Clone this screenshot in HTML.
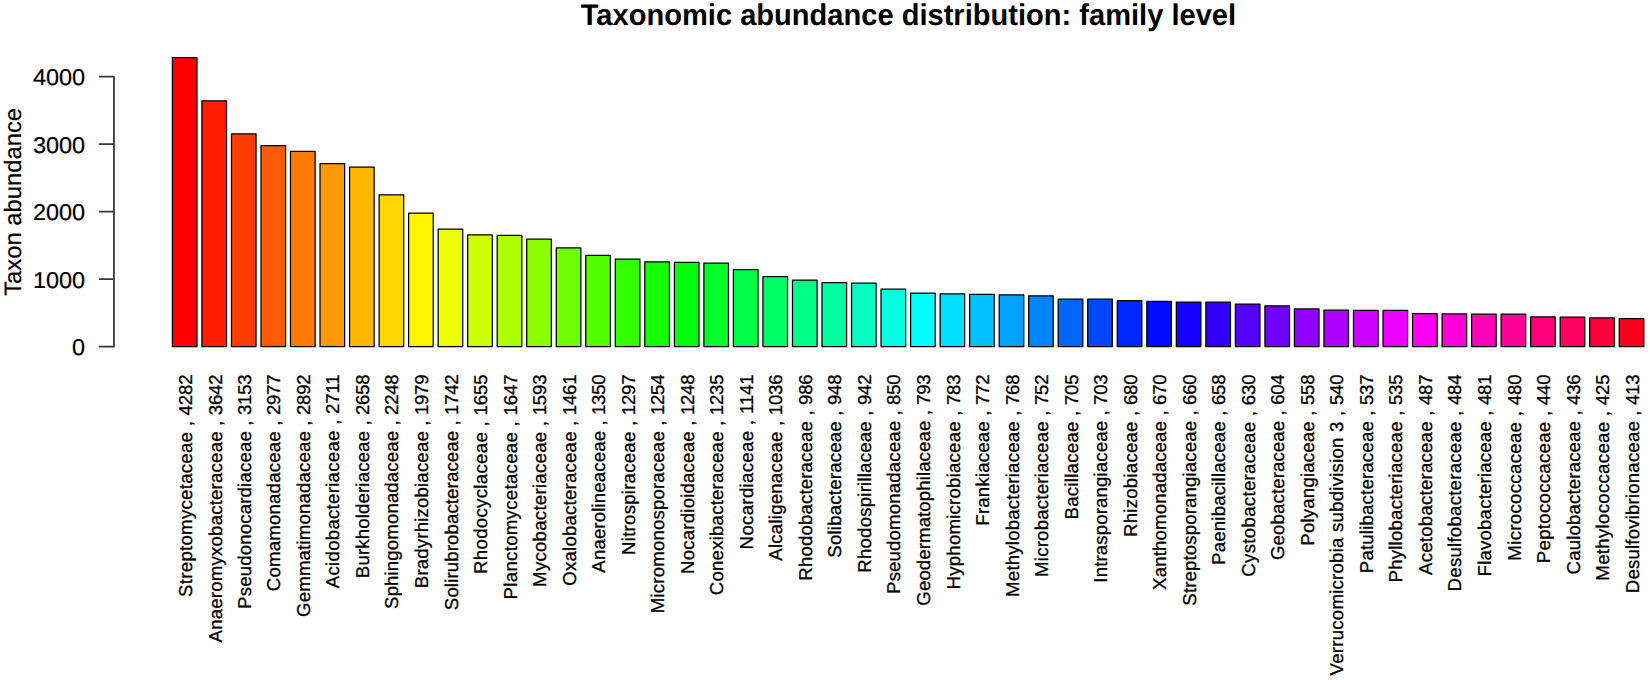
<!DOCTYPE html>
<html lang="en"><head><meta charset="utf-8"><title>Taxonomic abundance distribution: family level</title>
<style>
html,body{margin:0;padding:0;background:#fff;}
body{width:1650px;height:680px;overflow:hidden;}
svg{display:block;}
text{font-family:"Liberation Sans",sans-serif;fill:#000;text-rendering:geometricPrecision;}
.title{font-weight:bold;font-size:29.9px;}
.ax{font-size:22.8px;stroke:#000;stroke-width:0.2px;}
.yl{font-size:23.8px;stroke:#000;stroke-width:0.2px;}
.lab{font-size:18.6px;stroke:#000;stroke-width:0.3px;}
.d{letter-spacing:-0.45px;}
.bar{stroke:#000;stroke-width:1.25;stroke-linejoin:round;}
.axl{stroke:#383838;stroke-width:1.8;fill:none;stroke-linecap:round;stroke-linejoin:round;}
</style></head><body>
<svg width="1650" height="680" viewBox="0 0 1650 680">
<rect x="0" y="0" width="1650" height="680" fill="#ffffff"/>
<text class="title" x="908.4" y="25.3" text-anchor="middle" textLength="655.3" lengthAdjust="spacingAndGlyphs">Taxonomic abundance distribution: family level</text>
<path class="axl" d="M113.95 346.60 V76.60 M113.95 346.60 H99.60 M113.95 279.10 H99.60 M113.95 211.60 H99.60 M113.95 144.10 H99.60 M113.95 76.60 H99.60"/>
<text class="ax" x="85.2" y="355.10" text-anchor="end" textLength="13.07" lengthAdjust="spacingAndGlyphs">0</text>
<text class="ax" x="85.2" y="287.60" text-anchor="end" textLength="52.28" lengthAdjust="spacingAndGlyphs">1000</text>
<text class="ax" x="85.2" y="220.10" text-anchor="end" textLength="52.28" lengthAdjust="spacingAndGlyphs">2000</text>
<text class="ax" x="85.2" y="152.60" text-anchor="end" textLength="52.28" lengthAdjust="spacingAndGlyphs">3000</text>
<text class="ax" x="85.2" y="85.10" text-anchor="end" textLength="52.28" lengthAdjust="spacingAndGlyphs">4000</text>
<text class="yl" transform="translate(21.3,201.90) rotate(-90)" text-anchor="middle">Taxon abundance</text>
<rect class="bar" x="172.40" y="57.56" width="24.60" height="289.04" fill="#FF0000"/>
<rect class="bar" x="201.93" y="100.77" width="24.60" height="245.84" fill="#FF1F00"/>
<rect class="bar" x="231.45" y="133.77" width="24.60" height="212.83" fill="#FF3D00"/>
<rect class="bar" x="260.98" y="145.65" width="24.60" height="200.95" fill="#FF5C00"/>
<rect class="bar" x="290.51" y="151.39" width="24.60" height="195.21" fill="#FF7A00"/>
<rect class="bar" x="320.03" y="163.61" width="24.60" height="182.99" fill="#FF9900"/>
<rect class="bar" x="349.56" y="167.19" width="24.60" height="179.42" fill="#FFB800"/>
<rect class="bar" x="379.09" y="194.86" width="24.60" height="151.74" fill="#FFD600"/>
<rect class="bar" x="408.62" y="213.02" width="24.60" height="133.58" fill="#FFF500"/>
<rect class="bar" x="438.14" y="229.02" width="24.60" height="117.59" fill="#EBFF00"/>
<rect class="bar" x="467.67" y="234.89" width="24.60" height="111.71" fill="#CCFF00"/>
<rect class="bar" x="497.20" y="235.43" width="24.60" height="111.17" fill="#ADFF00"/>
<rect class="bar" x="526.72" y="239.07" width="24.60" height="107.53" fill="#8FFF00"/>
<rect class="bar" x="556.25" y="247.98" width="24.60" height="98.62" fill="#70FF00"/>
<rect class="bar" x="585.78" y="255.48" width="24.60" height="91.12" fill="#52FF00"/>
<rect class="bar" x="615.31" y="259.05" width="24.60" height="87.55" fill="#33FF00"/>
<rect class="bar" x="644.83" y="261.96" width="24.60" height="84.64" fill="#14FF00"/>
<rect class="bar" x="674.36" y="262.36" width="24.60" height="84.24" fill="#00FF0A"/>
<rect class="bar" x="703.89" y="263.24" width="24.60" height="83.36" fill="#00FF29"/>
<rect class="bar" x="733.41" y="269.58" width="24.60" height="77.02" fill="#00FF47"/>
<rect class="bar" x="762.94" y="276.67" width="24.60" height="69.93" fill="#00FF66"/>
<rect class="bar" x="792.47" y="280.05" width="24.60" height="66.56" fill="#00FF85"/>
<rect class="bar" x="821.99" y="282.61" width="24.60" height="63.99" fill="#00FFA3"/>
<rect class="bar" x="851.52" y="283.02" width="24.60" height="63.58" fill="#00FFC2"/>
<rect class="bar" x="881.05" y="289.23" width="24.60" height="57.38" fill="#00FFE0"/>
<rect class="bar" x="910.58" y="293.07" width="24.60" height="53.53" fill="#00FFFF"/>
<rect class="bar" x="940.10" y="293.75" width="24.60" height="52.85" fill="#00E0FF"/>
<rect class="bar" x="969.63" y="294.49" width="24.60" height="52.11" fill="#00C2FF"/>
<rect class="bar" x="999.16" y="294.76" width="24.60" height="51.84" fill="#00A3FF"/>
<rect class="bar" x="1028.68" y="295.84" width="24.60" height="50.76" fill="#0085FF"/>
<rect class="bar" x="1058.21" y="299.01" width="24.60" height="47.59" fill="#0066FF"/>
<rect class="bar" x="1087.74" y="299.15" width="24.60" height="47.45" fill="#0047FF"/>
<rect class="bar" x="1117.26" y="300.70" width="24.60" height="45.90" fill="#0029FF"/>
<rect class="bar" x="1146.79" y="301.38" width="24.60" height="45.23" fill="#000AFF"/>
<rect class="bar" x="1176.32" y="302.05" width="24.60" height="44.55" fill="#1400FF"/>
<rect class="bar" x="1205.85" y="302.19" width="24.60" height="44.42" fill="#3300FF"/>
<rect class="bar" x="1235.37" y="304.08" width="24.60" height="42.52" fill="#5200FF"/>
<rect class="bar" x="1264.90" y="305.83" width="24.60" height="40.77" fill="#7000FF"/>
<rect class="bar" x="1294.43" y="308.94" width="24.60" height="37.67" fill="#8F00FF"/>
<rect class="bar" x="1323.95" y="310.15" width="24.60" height="36.45" fill="#AD00FF"/>
<rect class="bar" x="1353.48" y="310.35" width="24.60" height="36.25" fill="#CC00FF"/>
<rect class="bar" x="1383.01" y="310.49" width="24.60" height="36.11" fill="#EB00FF"/>
<rect class="bar" x="1412.53" y="313.73" width="24.60" height="32.87" fill="#FF00F5"/>
<rect class="bar" x="1442.06" y="313.93" width="24.60" height="32.67" fill="#FF00D6"/>
<rect class="bar" x="1471.59" y="314.13" width="24.60" height="32.47" fill="#FF00B8"/>
<rect class="bar" x="1501.12" y="314.20" width="24.60" height="32.40" fill="#FF0099"/>
<rect class="bar" x="1530.64" y="316.90" width="24.60" height="29.70" fill="#FF007A"/>
<rect class="bar" x="1560.17" y="317.17" width="24.60" height="29.43" fill="#FF005C"/>
<rect class="bar" x="1589.70" y="317.91" width="24.60" height="28.69" fill="#FF003D"/>
<rect class="bar" x="1619.22" y="318.72" width="24.60" height="27.88" fill="#FF001F"/>
<text class="lab" transform="translate(191.80,374.90) rotate(-90)" text-anchor="end" textLength="222.00" lengthAdjust="spacing">Streptomycetaceae , <tspan class="d">4282</tspan></text>
<text class="lab" transform="translate(222.43,374.90) rotate(-90)" text-anchor="end" textLength="267.50" lengthAdjust="spacing">Anaeromyxobacteraceae , <tspan class="d">3642</tspan></text>
<text class="lab" transform="translate(250.85,374.90) rotate(-90)" text-anchor="end" textLength="234.00" lengthAdjust="spacing">Pseudonocardiaceae , <tspan class="d">3153</tspan></text>
<text class="lab" transform="translate(279.88,374.90) rotate(-90)" text-anchor="end" textLength="216.25" lengthAdjust="spacing">Comamonadaceae , <tspan class="d">2977</tspan></text>
<text class="lab" transform="translate(309.91,374.90) rotate(-90)" text-anchor="end" textLength="242.00" lengthAdjust="spacing">Gemmatimonadaceae , <tspan class="d">2892</tspan></text>
<text class="lab" transform="translate(339.44,374.90) rotate(-90)" text-anchor="end" textLength="213.25" lengthAdjust="spacing">Acidobacteriaceae , <tspan class="d">2711</tspan></text>
<text class="lab" transform="translate(368.96,374.90) rotate(-90)" text-anchor="end" textLength="203.25" lengthAdjust="spacing">Burkholderiaceae , <tspan class="d">2658</tspan></text>
<text class="lab" transform="translate(398.49,374.90) rotate(-90)" text-anchor="end" textLength="234.00" lengthAdjust="spacing">Sphingomonadaceae , <tspan class="d">2248</tspan></text>
<text class="lab" transform="translate(428.02,374.90) rotate(-90)" text-anchor="end" textLength="213.25" lengthAdjust="spacing">Bradyrhizobiaceae , <tspan class="d">1979</tspan></text>
<text class="lab" transform="translate(457.54,374.90) rotate(-90)" text-anchor="end" textLength="235.25" lengthAdjust="spacing">Solirubrobacteraceae , <tspan class="d">1742</tspan></text>
<text class="lab" transform="translate(487.07,374.90) rotate(-90)" text-anchor="end" textLength="199.00" lengthAdjust="spacing">Rhodocyclaceae , <tspan class="d">1655</tspan></text>
<text class="lab" transform="translate(516.60,374.90) rotate(-90)" text-anchor="end" textLength="224.50" lengthAdjust="spacing">Planctomycetaceae , <tspan class="d">1647</tspan></text>
<text class="lab" transform="translate(546.12,374.90) rotate(-90)" text-anchor="end" textLength="212.00" lengthAdjust="spacing">Mycobacteriaceae , <tspan class="d">1593</tspan></text>
<text class="lab" transform="translate(575.65,374.90) rotate(-90)" text-anchor="end" textLength="210.75" lengthAdjust="spacing">Oxalobacteraceae , <tspan class="d">1461</tspan></text>
<text class="lab" transform="translate(605.18,374.90) rotate(-90)" text-anchor="end" textLength="197.75" lengthAdjust="spacing">Anaerolineaceae , <tspan class="d">1350</tspan></text>
<text class="lab" transform="translate(634.71,374.90) rotate(-90)" text-anchor="end" textLength="180.00" lengthAdjust="spacing">Nitrospiraceae , <tspan class="d">1297</tspan></text>
<text class="lab" transform="translate(664.23,374.90) rotate(-90)" text-anchor="end" textLength="238.25" lengthAdjust="spacing">Micromonosporaceae , <tspan class="d">1254</tspan></text>
<text class="lab" transform="translate(694.16,374.90) rotate(-90)" text-anchor="end" textLength="199.00" lengthAdjust="spacing">Nocardioidaceae , <tspan class="d">1248</tspan></text>
<text class="lab" transform="translate(723.29,374.90) rotate(-90)" text-anchor="end" textLength="220.25" lengthAdjust="spacing">Conexibacteraceae , <tspan class="d">1235</tspan></text>
<text class="lab" transform="translate(752.81,374.90) rotate(-90)" text-anchor="end" textLength="174.50" lengthAdjust="spacing">Nocardiaceae , <tspan class="d">1141</tspan></text>
<text class="lab" transform="translate(782.34,374.90) rotate(-90)" text-anchor="end" textLength="185.75" lengthAdjust="spacing">Alcaligenaceae , <tspan class="d">1036</tspan></text>
<text class="lab" transform="translate(811.87,374.90) rotate(-90)" text-anchor="end" textLength="205.75" lengthAdjust="spacing">Rhodobacteraceae , <tspan class="d">986</tspan></text>
<text class="lab" transform="translate(841.39,374.90) rotate(-90)" text-anchor="end" textLength="182.75" lengthAdjust="spacing">Solibacteraceae , <tspan class="d">948</tspan></text>
<text class="lab" transform="translate(870.92,374.90) rotate(-90)" text-anchor="end" textLength="197.75" lengthAdjust="spacing">Rhodospirillaceae , <tspan class="d">942</tspan></text>
<text class="lab" transform="translate(900.45,374.90) rotate(-90)" text-anchor="end" textLength="219.00" lengthAdjust="spacing">Pseudomonadaceae , <tspan class="d">850</tspan></text>
<text class="lab" transform="translate(929.98,374.90) rotate(-90)" text-anchor="end" textLength="230.75" lengthAdjust="spacing">Geodermatophilaceae , <tspan class="d">793</tspan></text>
<text class="lab" transform="translate(959.50,374.90) rotate(-90)" text-anchor="end" textLength="214.50" lengthAdjust="spacing">Hyphomicrobiaceae , <tspan class="d">783</tspan></text>
<text class="lab" transform="translate(989.03,374.90) rotate(-90)" text-anchor="end" textLength="150.75" lengthAdjust="spacing">Frankiaceae , <tspan class="d">772</tspan></text>
<text class="lab" transform="translate(1018.56,374.90) rotate(-90)" text-anchor="end" textLength="222.00" lengthAdjust="spacing">Methylobacteriaceae , <tspan class="d">768</tspan></text>
<text class="lab" transform="translate(1048.08,374.90) rotate(-90)" text-anchor="end" textLength="202.00" lengthAdjust="spacing">Microbacteriaceae , <tspan class="d">752</tspan></text>
<text class="lab" transform="translate(1077.61,374.90) rotate(-90)" text-anchor="end" textLength="144.50" lengthAdjust="spacing">Bacillaceae , <tspan class="d">705</tspan></text>
<text class="lab" transform="translate(1107.14,374.90) rotate(-90)" text-anchor="end" textLength="207.75" lengthAdjust="spacing">Intrasporangiaceae , <tspan class="d">703</tspan></text>
<text class="lab" transform="translate(1136.66,374.90) rotate(-90)" text-anchor="end" textLength="162.00" lengthAdjust="spacing">Rhizobiaceae , <tspan class="d">680</tspan></text>
<text class="lab" transform="translate(1166.19,374.90) rotate(-90)" text-anchor="end" textLength="215.00" lengthAdjust="spacing">Xanthomonadaceae , <tspan class="d">670</tspan></text>
<text class="lab" transform="translate(1195.72,374.90) rotate(-90)" text-anchor="end" textLength="230.75" lengthAdjust="spacing">Streptosporangiaceae , <tspan class="d">660</tspan></text>
<text class="lab" transform="translate(1225.24,374.90) rotate(-90)" text-anchor="end" textLength="190.00" lengthAdjust="spacing">Paenibacillaceae , <tspan class="d">658</tspan></text>
<text class="lab" transform="translate(1254.77,374.90) rotate(-90)" text-anchor="end" textLength="201.75" lengthAdjust="spacing">Cystobacteraceae , <tspan class="d">630</tspan></text>
<text class="lab" transform="translate(1284.30,374.90) rotate(-90)" text-anchor="end" textLength="185.10" lengthAdjust="spacing">Geobacteraceae , <tspan class="d">604</tspan></text>
<text class="lab" transform="translate(1313.83,374.90) rotate(-90)" text-anchor="end" textLength="170.75" lengthAdjust="spacing">Polyangiaceae , <tspan class="d">558</tspan></text>
<text class="lab" transform="translate(1343.35,374.90) rotate(-90)" text-anchor="end" textLength="300.50" lengthAdjust="spacing">Verrucomicrobia subdivision 3 , <tspan class="d">540</tspan></text>
<text class="lab" transform="translate(1372.88,374.90) rotate(-90)" text-anchor="end" textLength="198.25" lengthAdjust="spacing">Patulibacteraceae , <tspan class="d">537</tspan></text>
<text class="lab" transform="translate(1402.41,374.90) rotate(-90)" text-anchor="end" textLength="207.60" lengthAdjust="spacing">Phyllobacteriaceae , <tspan class="d">535</tspan></text>
<text class="lab" transform="translate(1431.93,374.90) rotate(-90)" text-anchor="end" textLength="200.00" lengthAdjust="spacing">Acetobacteraceae , <tspan class="d">487</tspan></text>
<text class="lab" transform="translate(1461.46,374.90) rotate(-90)" text-anchor="end" textLength="216.50" lengthAdjust="spacing">Desulfobacteraceae , <tspan class="d">484</tspan></text>
<text class="lab" transform="translate(1490.99,374.90) rotate(-90)" text-anchor="end" textLength="201.50" lengthAdjust="spacing">Flavobacteriaceae , <tspan class="d">481</tspan></text>
<text class="lab" transform="translate(1520.52,374.90) rotate(-90)" text-anchor="end" textLength="185.75" lengthAdjust="spacing">Micrococcaceae , <tspan class="d">480</tspan></text>
<text class="lab" transform="translate(1550.04,374.90) rotate(-90)" text-anchor="end" textLength="188.25" lengthAdjust="spacing">Peptococcaceae , <tspan class="d">440</tspan></text>
<text class="lab" transform="translate(1579.57,374.90) rotate(-90)" text-anchor="end" textLength="199.50" lengthAdjust="spacing">Caulobacteraceae , <tspan class="d">436</tspan></text>
<text class="lab" transform="translate(1609.10,374.90) rotate(-90)" text-anchor="end" textLength="205.75" lengthAdjust="spacing">Methylococcaceae , <tspan class="d">425</tspan></text>
<text class="lab" transform="translate(1638.62,374.90) rotate(-90)" text-anchor="end" textLength="218.25" lengthAdjust="spacing">Desulfovibrionaceae , <tspan class="d">413</tspan></text>
</svg>
</body></html>
